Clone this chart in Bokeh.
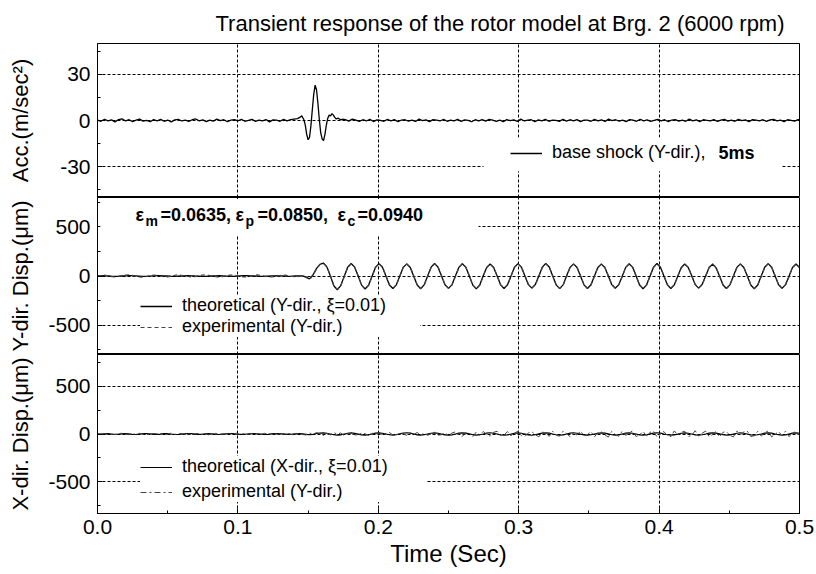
import numpy as np
from bokeh.plotting import figure
from bokeh.layouts import column
from bokeh.models import (Range1d, FixedTicker, Grid, Legend, LegendItem, Label,
                          BoxAnnotation)
from bokeh.embed import file_html
from bokeh.resources import INLINE

FONT = "Liberation Sans"

TITLE = "Transient response of the rotor model at Brg. 2 (6000 rpm)"
X_LABEL = "Time (Sec)"
Y_LABEL_ACC = "Acc.(m/sec\u00b2)"
Y_LABEL_YD = "Y-dir. Disp.(\u03bcm)"
Y_LABEL_XD = "X-dir. Disp.(\u03bcm)"

X_TICKS = [0.0, 0.1, 0.2, 0.3, 0.4, 0.5]
X_TICK_LABELS = ["0.0", "0.1", "0.2", "0.3", "0.4", "0.5"]
X_MINOR = [0.05, 0.15, 0.25, 0.35, 0.45]
ACC_TICKS = [-30, 0, 30]
ACC_TICK_LABELS = ["-30", "0", "30"]
ACC_MINOR = [-45, -15, 15, 45]
DISP_TICKS = [-500, 0, 500]
DISP_TICK_LABELS = ["-500", "0", "500"]
DISP_MINOR = [-750, -250, 250, 750]

LEG_ACC = "base shock (Y-dir.),"
LEG_ACC_BOLD = "5ms"
LEG_Y_THEO = "theoretical (Y-dir., \u03be=0.01)"
LEG_Y_EXP = "experimental (Y-dir.)"
LEG_X_THEO = "theoretical (X-dir., \u03be=0.01)"
LEG_X_EXP = "experimental (Y-dir.)"

# ---- base shock acceleration (m/s^2) ----
ACC_DT = 0.0025
ACC_PRE = [0.3, -0.5, 0.8, -0.2, 0.4, -0.9, 0.6, 1.1, -0.3, 0.5,
           -0.7, 0.2, 0.9, -0.4, 0.1, -0.8, 0.6, -0.2, 0.7, -0.5,
           0.3, -1.0, 0.4, 0.8, -0.3, 0.2, -0.6, 0.5, 1.0, -0.2,
           0.4, -0.7, 0.3, -0.4, 0.9, -0.1, 0.5, -0.8, 0.2, 0.6,
           -0.3, 0.7, -0.5, 0.1, 0.8, -0.6, 0.3, -0.2, 0.6, -0.9,
           0.4, 0.2, -0.5, 0.7, -0.3, 0.5, 0.9, 1.2]
SHOCK_T = [0.144, 0.1455, 0.147, 0.148, 0.149, 0.150, 0.151, 0.152, 0.153, 0.154,
           0.155, 0.156, 0.157, 0.158, 0.159, 0.160, 0.161, 0.162, 0.163, 0.164,
           0.165, 0.166, 0.167, 0.168, 0.169, 0.170, 0.1715, 0.173, 0.1745]
SHOCK_V = [2.0, 3.0, 0.5, -3.0, -9.0, -12.5, -11.0, -3.5, 7.0, 17.0,
           23.0, 20.0, 11.0, 0.5, -8.0, -12.0, -13.0, -9.0, -3.0, 1.5,
           3.5, 3.0, 4.5, 3.5, 2.0, 1.0, 1.5, 0.5, 0.8]
ACC_POST_START = 0.1765
ACC_POST = [0.6, -0.4, 0.9, 0.2, -0.6, 0.5, -0.3, 0.8, -0.7, 0.4,
            0.1, -0.5, 0.7, -0.2, 0.6, -0.8, 0.3, 0.5, -0.4, 0.2,
            -0.6, 0.9, -0.1, 0.4, -0.7, 0.6, 0.2, -0.3, 0.8, -0.5,
            0.3, -0.2, 0.7, -0.6, 0.4, 0.1, -0.8, 0.5, -0.3, 0.6,
            -0.4, 0.8, 0.2, -0.5, 0.3, -0.7, 0.6, -0.1, 0.4, -0.6,
            0.9, -0.3, 0.2, 0.5, -0.8, 0.4, -0.2, 0.7, -0.5, 0.3,
            0.1, -0.6, 0.8, -0.4, 0.5, -0.2, 0.6, -0.7, 0.3, 0.2,
            -0.5, 0.7, -0.3, 0.4, -0.6, 0.9, -0.1, 0.5, -0.4, 0.2,
            -0.7, 0.6, 0.3, -0.5, 0.8, -0.2, 0.4, -0.6, 0.1, 0.7,
            -0.3, 0.5, -0.8, 0.3, 0.6, -0.4, 0.2, -0.5, 0.9, -0.2,
            0.4, -0.7, 0.5, 0.1, -0.3, 0.6, -0.6, 0.3, 0.8, -0.4,
            0.2, -0.5, 0.7, -0.1, 0.4, -0.8, 0.6, 0.2, -0.3, 0.5,
            -0.6, 0.4, 0.8, -0.2, 0.3, -0.7, 0.5, 0.1, -0.4, 0.6, 0.2]

# ---- displacements (micrometre), sampled every DISP_DT seconds from t=0 ----
DISP_DT = 0.002475
DISP_Y_THEO = [0, 2, 3, 1, -2, -4, -3, 0, 2, 4,
               3, 1, -1, -3, -4, -2, 1, 3, 4, 2,
               0, -2, -3, -2, 0, 2, 3, 2, 0, -1,
               -3, -4, -2, 0, 2, 3, 1, -1, -2, -3,
               -1, 1, 3, 4, 2, 0, -2, -4, -3, -1,
               1, 2, 3, 1, -1, -3, -2, 0, 2, 1,
               -8, -30, 10, 75, 118,
               132, 93, 2, -99, -140, -98, -3, 90,
               128, 90, 1, -93, -132, -94, -2, 89,
               126, 89, 0, -91, -128, -90, 1, 88,
               124, 87, -2, -92, -130, -91, 0, 90,
               127, 90, 1, -89, -126, -90, -1, 88,
               125, 88, 0, -93, -131, -92, 2, 86,
               122, 86, -1, -90, -127, -89, 0, 89,
               126, 89, 1, -88, -124, -87, -1, 90,
               128, 91, 0, -91, -129, -91, 2, 88,
               124, 87, -1, -90, -127, -89, 0, 86,
               121, 86, 1, -88, -125, -88, -2, 88,
               125, 88, 0, -92, -130, -91, 1, 90,
               127, 89, -1, -90, -127, -89, 0, 87,
               123, 87, 2, -88, -124, -87, -1, 85,
               120, 85, 0, -91, -128, -90, 1, 88,
               124, 87, -1, -92, -130, -92, 0, 89,
               126, 89, 1, -89, -126, -88, -2, 86,
               122, 86]
DISP_Y_EXP = [5, -3, 8, 2, -6, -10, -4, 3, 9, 12,
              6, -2, -8, -11, -5, 4, 10, 7, 0, -6,
              -9, -3, 5, 11, 8, 1, -5, -10, -7, 2,
              8, 12, 6, -1, -7, -12, -6, 3, 9, 10,
              4, -3, -9, -8, -2, 6, 11, 7, 0, -5,
              -10, -6, 2, 8, 9, 3, -4, -8, -5, 1,
              -15, -35, 5, 70, 115,
              130, 95, 8, -95, -136, -100, -8, 86,
              125, 93, 6, -90, -130, -97, -6, 85,
              128, 92, 4, -88, -126, -93, -4, 91,
              122, 90, 3, -89, -128, -94, -5, 86,
              124, 93, 6, -86, -124, -93, -6, 84,
              127, 91, 4, -90, -129, -95, -3, 88,
              120, 89, 5, -87, -125, -92, -5, 92,
              124, 92, 6, -85, -122, -90, -6, 86,
              126, 94, 4, -88, -127, -94, -3, 84,
              121, 90, 4, -87, -125, -92, -5, 89,
              123, 89, 6, -85, -123, -91, -7, 85,
              122, 91, 4, -89, -128, -94, -4, 86,
              125, 92, 3, -87, -125, -92, -5, 83,
              120, 90, 6, -85, -122, -90, -6, 89,
              123, 88, 4, -88, -126, -93, -4, 84,
              121, 90, 3, -89, -128, -95, -5, 86,
              124, 92, 5, -86, -124, -91, -7, 83,
              120, 89]
DISP_X_THEO = [0, -2, 1, 3, -1, -4, -2, 2, 4, 1,
               -3, -5, -2, 3, 5, 2, -2, -4, -1, 3,
               4, 0, -3, -5, -1, 2, 5, 3, -1, -4,
               -3, 1, 4, 2, -2, -5, -2, 2, 5, 3,
               -1, -3, -4, 0, 3, 4, 1, -2, -5, -3,
               1, 3, 5, 2, -1, -4, -2, 1, 4, 2,
               -3, -8, -4, 5, 10, 12, 8, 0, -8, -12,
               -9, 0, 8, 11, 7, -1, -9, -13, -8, 1,
               9, 12, 8, 0, -8, -11, -8, 1, 10, 13,
               9, 0, -9, -12, -8, 0, 8, 12, 8, -1,
               -9, -13, -9, 0, 9, 12, 9, 1, -8, -12,
               -8, 0, 9, 13, 8, 0, -9, -12, -9, -1,
               8, 11, 8, 0, -9, -13, -8, 1, 9, 12,
               9, 0, -8, -12, -9, 0, 9, 13, 8, -1,
               -9, -12, -8, 0, 8, 12, 9, 1, -8, -13,
               -9, 0, 9, 12, 8, 0, -9, -12, -8, 1,
               9, 13, 9, 0, -8, -12, -9, -1, 8, 12,
               8, 0, -9, -13, -8, 0, 9, 12, 9, 1,
               -8, -12, -9, 0, 8, 13, 8, 0, -9, -12,
               -8, -1, 9, 12, 9, 0, -8, -13, -9, 0,
               9, 12, 8, 1, -8]
DISP_X_EXP = [4, -3, 6, -5, 2, -7, 3, 8, -2, -6,
              5, -4, 7, 1, -8, -3, 6, 2, -5, 4,
              -6, 8, -1, -4, 7, -2, 5, -7, 3, 6,
              -5, 1, -8, 4, 7, -3, 2, -6, 5, -1,
              8, -4, 3, -7, 6, -2, 4, -5, 7, 1,
              -6, 3, -4, 8, -3, 5, -7, 2, 6, -5,
              -10, 12, -6, 15, 3, -14, 8, -9, 16, -4,
              11, -15, 6, 13, -8, -12, 10, 4, -16, 9,
              -5, 14, -11, 7, 15, -9, -13, 11, 3, -15,
              12, -6, 16, -10, 8, -14, 5, 17, -12, -7, 14,
              -18, 10, 22, -8, -25, 15, 6, -28, 20, -12,
              26, -5, -22, 18, 28, -15, -10, 25, -20, 8,
              30, -18, -26, 12, 24, -8, -30, 20, 10, -25,
              28, -14, -22, 30, 5, -28, 18, -12, 32, -20,
              -8, 26, -30, 15, 22, -10, -32, 28, -5, -24,
              30, -16, 12, 33, -26, -10, 28, -22, 18, 30,
              -30, 6, 25, -18, -28, 32, -12, 20, 28, -25,
              -15, 34, -20, 8, 30, -28, -6, 26, -32, 18,
              24, -14, -30, 32, -8, 22, 30, -26, -18, 28,
              -22, 14, 32, -30, -4, 26, -20, 30, -28, 12,
              24, -10, -32, 28, -16]

# ---- derived sample times ----
acc_t = np.concatenate([np.arange(len(ACC_PRE)) * ACC_DT, SHOCK_T,
                        ACC_POST_START + np.arange(len(ACC_POST)) * ACC_DT])
acc_v = np.concatenate([ACC_PRE, SHOCK_V, ACC_POST])
ty_theo = np.arange(len(DISP_Y_THEO)) * DISP_DT
ty_exp = np.arange(len(DISP_Y_EXP)) * DISP_DT
tx_theo = np.arange(len(DISP_X_THEO)) * DISP_DT
tx_exp = np.arange(len(DISP_X_EXP)) * DISP_DT

x_range = Range1d(0, 0.5)
LEFT, RIGHT = 97, 17
WIDTH = 816
PX_PER_T = 1404.0  # 702 px frame over 0.5 s (annotation placement only)


def t_at(px):
    return (px - 97) / PX_PER_T


def make_panel(frame_h, yr, ticks, minor, tick_labels, ylabel, lab_standoff,
               top=0, bottom=0, bottom_axis=False):
    p = figure(width=WIDTH, height=frame_h + top + bottom, x_range=x_range,
               y_range=Range1d(*yr), output_backend="svg", toolbar_location=None,
               x_axis_location="below" if bottom_axis else None,
               min_border_left=LEFT, min_border_right=RIGHT, min_border_top=top,
               min_border_bottom=bottom, outline_line_color="black",
               outline_line_width=1.0, background_fill_color="white",
               border_fill_color="white")
    p.grid.visible = False
    p.add_layout(Grid(dimension=0, ticker=FixedTicker(ticks=[0.1, 0.2, 0.3, 0.4]),
                      grid_line_color="black", grid_line_dash="3 2", grid_line_width=1))
    p.add_layout(Grid(dimension=1, ticker=FixedTicker(ticks=ticks),
                      grid_line_color="black", grid_line_dash="3 2", grid_line_width=1))
    ax = p.yaxis[0]
    ax.ticker = FixedTicker(ticks=ticks, minor_ticks=minor)
    ax.major_label_overrides = dict(zip(ticks, tick_labels))
    ax.axis_label = ylabel
    ax.axis_label_text_font = FONT
    ax.axis_label_text_font_size = "22px"
    ax.axis_label_text_font_style = "normal"
    ax.axis_label_text_color = "black"
    ax.axis_label_standoff = lab_standoff
    ax.major_label_text_font = FONT
    ax.major_label_text_font_size = "21px"
    ax.major_label_text_color = "black"
    ax.major_label_standoff = 7
    ax.major_tick_in = 5
    ax.major_tick_out = 0
    ax.minor_tick_in = 3
    ax.minor_tick_out = 0
    ax.axis_line_color = "black"
    if bottom_axis:
        xa = p.xaxis[0]
        xa.ticker = FixedTicker(ticks=X_TICKS, minor_ticks=X_MINOR)
        xa.major_label_overrides = dict(zip(X_TICKS, X_TICK_LABELS))
        xa.axis_label = X_LABEL
        xa.axis_label_text_font = FONT
        xa.axis_label_text_font_size = "24px"
        xa.axis_label_text_font_style = "normal"
        xa.axis_label_text_color = "black"
        xa.axis_label_standoff = 3
        xa.major_label_text_font = FONT
        xa.major_label_text_font_size = "21px"
        xa.major_label_text_color = "black"
        xa.major_label_standoff = 6
        xa.major_tick_in = 5
        xa.major_tick_out = 0
        xa.minor_tick_in = 3
        xa.minor_tick_out = 0
    return p


def legend(items, loc, lw, spacing=0):
    return Legend(items=items, location=loc, label_text_font=FONT,
                  label_text_font_size="18px", label_text_color="black",
                  glyph_width=32, glyph_height=20,
                  label_height=20, label_standoff=10, padding=5, spacing=spacing,
                  margin=0, label_width=lw, background_fill_color="white",
                  background_fill_alpha=1.0, border_line_color=None)


# ---------------- panel 1 : acceleration ----------------
p1 = make_panel(155, (-50, 50), ACC_TICKS, ACC_MINOR, ACC_TICK_LABELS,
                Y_LABEL_ACC, 24, top=42)
p1.title.text = TITLE
p1.title.text_font = FONT
p1.title.text_font_size = "22px"
p1.title.text_font_style = "normal"
p1.title.text_color = "black"
p1.title.align = "left"
p1.title.offset = 118
p1.title.standoff = 16
r_acc = p1.line(acc_t, acc_v, line_color="black", line_width=1.3)
# white backing behind the whole legend entry (hides grid lines as in the source)
p1.add_layout(BoxAnnotation(left=t_at(483), right=t_at(781), top=-11, bottom=-33,
                            fill_color="white", fill_alpha=1.0, line_color=None))
p1.add_layout(legend([LegendItem(label=LEG_ACC, renderers=[r_acc])], (413, 34), 0))
p1.add_layout(Label(x=t_at(718), y=-21, text=LEG_ACC_BOLD, text_font=FONT,
                    text_font_size="18px", text_font_style="bold",
                    text_color="black", text_baseline="middle", level="overlay"))

# ---------------- panel 2 : Y displacement ----------------
p2 = make_panel(157, (-800, 800), DISP_TICKS, DISP_MINOR, DISP_TICK_LABELS,
                Y_LABEL_YD, 12)
r_yt = p2.line(ty_theo, DISP_Y_THEO, line_color="black", line_width=1.3)
r_ye = p2.line(ty_exp, DISP_Y_EXP, line_color="#444444", line_width=1.2,
               line_dash="4 3")
p2.add_layout(legend([LegendItem(label=LEG_Y_THEO, renderers=[r_yt]),
                      LegendItem(label=LEG_Y_EXP, renderers=[r_ye])], (43, 17), 238))
p2.add_layout(BoxAnnotation(left=0.002, right=t_at(478), top=785, bottom=412,
                            fill_color="white", fill_alpha=1.0, line_color=None))
EPS_PARTS = [("\u03b5", 135, False), ("m", 145, True), ("=0.0635,", 160, False),
             ("\u03b5", 235, False), ("p", 245, True), ("=0.0850,", 257, False),
             ("\u03b5", 337, False), ("c", 347, True), ("=0.0940", 357, False)]
for txt, px, sub in EPS_PARTS:
    p2.add_layout(Label(x=t_at(px), y=560 if sub else 626, text=txt,
                        text_font=FONT, text_font_size="14px" if sub else "18px",
                        text_font_style="bold", text_color="black",
                        text_baseline="alphabetic", level="overlay"))

# ---------------- panel 3 : X displacement ----------------
p3 = make_panel(159, (-830, 830), DISP_TICKS, DISP_MINOR, DISP_TICK_LABELS,
                Y_LABEL_XD, 12, bottom=56, bottom_axis=True)
r_xt = p3.line(tx_theo, DISP_X_THEO, line_color="black", line_width=1.2)
r_xe = p3.line(tx_exp, DISP_X_EXP, line_color="#444444", line_width=1.0,
               line_dash="6 3 2 3")
p3.add_layout(legend([LegendItem(label=LEG_X_THEO, renderers=[r_xt]),
                      LegendItem(label=LEG_X_EXP, renderers=[r_xe])], (43, 11), 244,
                     spacing=4))

layout = column(p1, p2, p3, spacing=0)
open("out.html", "w").write(file_html(layout, INLINE))
